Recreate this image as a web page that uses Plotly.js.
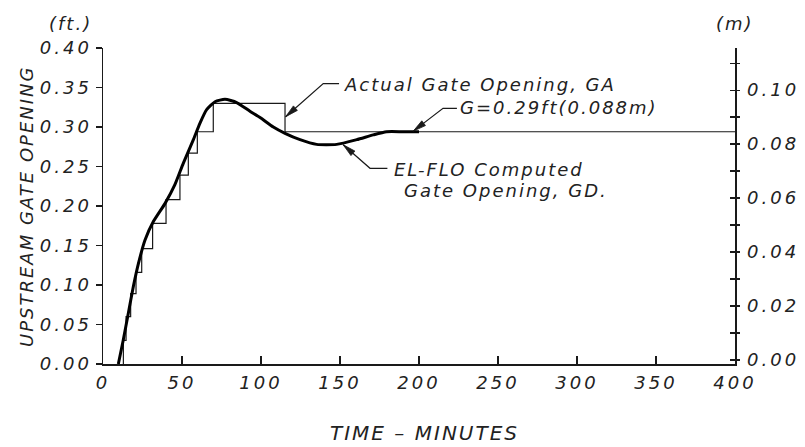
<!DOCTYPE html>
<html><head><meta charset="utf-8">
<script src="https://cdn.plot.ly/plotly-3.0.1.min.js"></script>
<style>
html,body{margin:0;padding:0;background:#fff;}
svg text{letter-spacing:2px;}
svg .xtick text, svg .ytick text, svg .y2tick text{letter-spacing:3px;}
</style></head><body>
<div id="chart" style="width:805px;height:447px;"></div>
<script>
// Actual gate opening GA (ft) - stepped
const timeGA = [12.9, 12.9, 14.6, 17.5, 20.9, 24.5, 31.4, 39.9, 48.7, 54.0, 59.7, 69.8, 115.2, 400];
const gateGA = [0, 0.030, 0.060, 0.089, 0.116, 0.146, 0.178, 0.208, 0.239, 0.267, 0.294, 0.330, 0.294, 0.294];
// EL-FLO computed gate opening GD (ft)
const timeGD = [9.7, 12.8, 16.0, 19.2, 22.4, 26.6, 31.8, 39.2, 45.5, 50.8, 57.2, 61.4, 65.6, 70.9, 77.2, 84.6, 93.0, 99.4, 107.8, 115.2, 124.7, 135.2, 147.9, 160.6, 171.0, 179.5, 190.0, 200.0];
const gateGD = [0, 0.030, 0.064, 0.098, 0.127, 0.157, 0.180, 0.203, 0.227, 0.254, 0.284, 0.305, 0.322, 0.332, 0.335, 0.331, 0.320, 0.312, 0.300, 0.292, 0.284, 0.278, 0.278, 0.284, 0.290, 0.294, 0.294, 0.294];
// Axis ticks
const xTickVals = [0, 50, 100, 150, 200, 250, 300, 350, 400];
const xTickText = ['0', '50', '100', '150', '200', '250', '300', '350', '400'];
const ftTickVals = [0, 0.05, 0.10, 0.15, 0.20, 0.25, 0.30, 0.35, 0.40];
const ftTickText = ['0.00', '0.05', '0.10', '0.15', '0.20', '0.25', '0.30', '0.35', '0.40'];
const mTickVals = [0, 0.01, 0.02, 0.03, 0.04, 0.05, 0.06, 0.07, 0.08, 0.09, 0.10, 0.11];
const mTickText = ['0.00', '', '0.02', '', '0.04', '', '0.06', '', '0.08', '', '0.10', ''];

const ink = '#1a1a1a';
const FAM = "'DejaVu Sans ExtraLight', 'DejaVu Sans', sans-serif";
const fnt = {family: FAM, style: 'italic', size: 18, color: '#222'};
const tickFnt = {family: FAM, style: 'italic', size: 18, color: '#222'};
const titleFnt = {family: FAM, style: 'italic', size: 20, color: '#222'};

const W = 805, H = 447, M = {l: 103, r: 70, t: 48, b: 83};
const xR = [0, 400], yR = [0, 0.40];
const pw = W - M.l - M.r, ph = H - M.t - M.b;
const toPx = (x, y) => [M.l + (x - xR[0]) / (xR[1] - xR[0]) * pw, M.t + ph - (y - yR[0]) / (yR[1] - yR[0]) * ph];
const toData = (px, py) => [xR[0] + (px - M.l) / pw * (xR[1] - xR[0]), yR[0] + (M.t + ph - py) / ph * (yR[1] - yR[0])];

// leader lines (data coords), last point is the arrow tip
const leaders = [
  [[149.4, 0.355], [139.4, 0.355], [115.6, 0.313]],
  [[224.0, 0.3236], [215.2, 0.3236], [196.4, 0.2948]],
  [[180.0, 0.2477], [169.0, 0.2477], [152.0, 0.2775]]
];
const shapes = [];
leaders.forEach(pts => {
  const d = pts.map((p, i) => (i ? 'L' : 'M') + p[0] + ',' + p[1]).join(' ');
  shapes.push({type: 'path', xref: 'x', yref: 'y', path: d, line: {color: ink, width: 1.2}});
  const tip = toPx(...pts[pts.length - 1]), prev = toPx(...pts[pts.length - 2]);
  let dx = tip[0] - prev[0], dy = tip[1] - prev[1];
  const L = Math.hypot(dx, dy); dx /= L; dy /= L;
  const hl = 13, hw = 3;
  const bx = tip[0] - dx * hl, by = tip[1] - dy * hl;
  const a = toData(bx - dy * hw, by + dx * hw), b = toData(bx + dy * hw, by - dx * hw), t = toData(...tip);
  shapes.push({type: 'path', xref: 'x', yref: 'y', path: `M${t[0]},${t[1]} L${a[0]},${a[1]} L${b[0]},${b[1]} Z`,
               fillcolor: ink, line: {color: ink, width: 0.8}});
});

const traces = [
  {x: timeGA, y: gateGA, mode: 'lines', line: {shape: 'hv', color: ink, width: 1.2}, hoverinfo: 'skip', showlegend: false},
  {x: timeGD, y: gateGD, mode: 'lines', line: {shape: 'spline', smoothing: 0.6, color: '#000', width: 3}, hoverinfo: 'skip', showlegend: false},
  {x: [0], y: [0], yaxis: 'y2', mode: 'markers', marker: {opacity: 0}, hoverinfo: 'skip', showlegend: false},
  {x: [0], y: [0], yaxis: 'y3', mode: 'markers', marker: {opacity: 0}, hoverinfo: 'skip', showlegend: false}
];

const mRange = [-0.0015, 0.1156];
const layout = {
  width: W, height: H,
  margin: M,
  paper_bgcolor: '#fff', plot_bgcolor: '#fff',
  showlegend: false,
  xaxis: {range: xR, tickvals: xTickVals, ticktext: xTickText, showgrid: false, zeroline: false,
          showline: true, linecolor: ink, linewidth: 1.5, ticks: 'inside', ticklen: 8, tickcolor: ink, tickwidth: 1.2,
          tickfont: tickFnt, ticklabelstandoff: 2},
  yaxis: {range: yR, tickvals: ftTickVals, ticktext: ftTickText, showgrid: false, zeroline: false,
          showline: true, linecolor: ink, linewidth: 1.5, ticks: 'outside', ticklen: 6, tickcolor: ink, tickwidth: 1.2,
          tickfont: tickFnt, ticklabelstandoff: 0},
  yaxis2: {overlaying: 'y', side: 'right', range: mRange, tickvals: mTickVals, ticktext: mTickText,
           showgrid: false, zeroline: false, showline: true, linecolor: ink, linewidth: 1.5,
           ticks: 'outside', ticklen: 3, tickcolor: ink, tickwidth: 1.2, tickfont: tickFnt, ticklabelstandoff: 4},
  yaxis3: {overlaying: 'y', side: 'right', range: mRange, tickvals: mTickVals, showticklabels: false,
           showgrid: false, zeroline: false, showline: false, ticks: 'inside', ticklen: 5, tickcolor: ink, tickwidth: 1.2},
  shapes: shapes,
  annotations: [
    {xref: 'x', yref: 'y', x: 151.5, y: 0.354, xanchor: 'left', yanchor: 'middle', text: 'Actual Gate Opening, GA', showarrow: false, font: fnt},
    {xref: 'x', yref: 'y', x: 224.7, y: 0.325, xanchor: 'left', yanchor: 'middle', text: 'G=0.29ft(0.088m)', showarrow: false, font: fnt},
    {xref: 'x', yref: 'y', x: 182.9, y: 0.2456, xanchor: 'left', yanchor: 'middle', text: 'EL-FLO Computed', showarrow: false, font: fnt},
    {xref: 'x', yref: 'y', x: 189.2, y: 0.220, xanchor: 'left', yanchor: 'middle', text: 'Gate Opening, GD.', showarrow: false, font: fnt},
    {xref: 'paper', yref: 'paper', x: 0, y: 1, xshift: -33, yshift: 25, xanchor: 'center', yanchor: 'middle', text: '(ft.)', showarrow: false, font: tickFnt},
    {xref: 'paper', yref: 'paper', x: 1, y: 1, xshift: 0, yshift: 25, xanchor: 'center', yanchor: 'middle', text: '(m)', showarrow: false, font: tickFnt},
    {xref: 'paper', yref: 'paper', x: 0, y: 0.5, xshift: -77, xanchor: 'center', yanchor: 'middle', textangle: -90, text: 'UPSTREAM GATE OPENING', showarrow: false, font: tickFnt},
    {xref: 'paper', yref: 'paper', x: 0.5, y: 0, xshift: 5, yshift: -69, xanchor: 'center', yanchor: 'middle', text: 'TIME – MINUTES', showarrow: false, font: titleFnt}
  ]
};
Plotly.newPlot('chart', traces, layout, {staticPlot: true});
</script>
</body></html>
